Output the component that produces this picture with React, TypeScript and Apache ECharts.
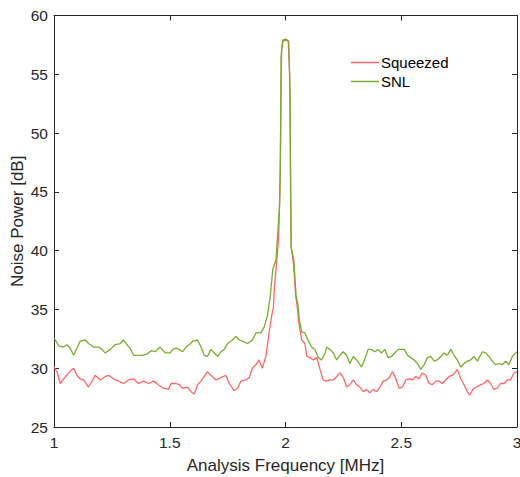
import React, { useEffect, useRef } from "react";
import * as echarts from "echarts";

const xTicks = [1, 1.5, 2, 2.5, 3];
const yTicks = [25, 30, 35, 40, 45, 50, 55, 60];

const freqSqueezed = [
  1.0, 1.013, 1.027, 1.042, 1.063, 1.085, 1.099, 1.113, 1.128, 1.149, 1.164, 1.178, 1.2, 1.221, 1.236, 1.257,
  1.279, 1.3, 1.322, 1.344, 1.365, 1.387, 1.408, 1.43, 1.451, 1.473, 1.494, 1.506, 1.527, 1.541, 1.556, 1.577,
  1.592, 1.606, 1.62, 1.635, 1.649, 1.663, 1.678, 1.699, 1.721, 1.742, 1.757, 1.778, 1.793, 1.807, 1.829, 1.843,
  1.857, 1.872, 1.886, 1.9, 1.915, 1.929, 1.94, 1.948, 1.952, 1.959, 1.97, 1.976, 1.98, 1.983, 1.988, 2.0,
  2.012, 2.018, 2.022, 2.025, 2.034, 2.044, 2.052, 2.056, 2.063, 2.07, 2.084, 2.092, 2.106, 2.12, 2.135, 2.149,
  2.163, 2.178, 2.192, 2.207, 2.221, 2.235, 2.25, 2.264, 2.278, 2.293, 2.307, 2.321, 2.336, 2.35, 2.364, 2.379,
  2.393, 2.408, 2.422, 2.437, 2.451, 2.462, 2.477, 2.491, 2.505, 2.52, 2.534, 2.548, 2.563, 2.577, 2.591, 2.606,
  2.62, 2.635, 2.649, 2.663, 2.678, 2.692, 2.707, 2.721, 2.735, 2.742, 2.757, 2.771, 2.786, 2.796, 2.81, 2.825,
  2.843, 2.857, 2.872, 2.886, 2.9, 2.915, 2.929, 2.944, 2.958, 2.972, 2.987, 3.0,
];
const powerSqueezed = [
  30.1, 29.7, 28.7, 29.1, 29.6, 30.0, 29.4, 29.1, 29.0, 28.4, 28.9, 29.4, 29.0, 29.3, 29.4, 29.1,
  28.9, 28.7, 29.0, 29.1, 28.7, 28.9, 28.7, 28.9, 28.6, 28.3, 28.2, 28.7, 28.7, 28.6, 28.3, 28.4,
  28.0, 27.8, 28.6, 28.9, 29.3, 29.7, 29.4, 29.0, 29.2, 29.4, 28.7, 28.1, 28.3, 28.9, 29.0, 29.2,
  30.0, 30.3, 30.7, 30.0, 31.0, 33.0, 34.4, 35.2, 36.9, 38.4, 41.0, 45.0, 52.0, 57.0, 57.8, 57.9,
  57.8, 55.0, 45.0, 40.3, 39.0, 36.2, 35.0, 34.1, 33.2, 32.4, 32.1, 31.0, 30.9, 30.7, 30.9, 29.9,
  29.0, 28.9, 29.0, 29.0, 29.3, 29.6, 29.2, 28.4, 28.6, 29.0, 28.6, 28.4, 28.0, 28.2, 27.9, 28.2,
  28.0, 28.4, 28.9, 29.0, 29.3, 29.7, 29.1, 28.3, 28.4, 29.0, 29.1, 29.0, 29.3, 29.1, 29.6, 29.4,
  28.7, 28.6, 28.9, 28.9, 28.7, 29.0, 29.3, 29.4, 29.7, 29.9, 29.1, 28.6, 28.0, 27.7, 28.2, 28.4,
  28.6, 28.7, 29.0, 28.7, 28.2, 28.3, 28.7, 28.7, 29.0, 29.0, 29.6, 29.7,
];

const freqSNL = [
  1.0, 1.006, 1.02, 1.042, 1.056, 1.07, 1.085, 1.099, 1.113, 1.135, 1.149, 1.171, 1.192, 1.207, 1.221, 1.243,
  1.264, 1.286, 1.3, 1.315, 1.329, 1.344, 1.358, 1.379, 1.401, 1.422, 1.437, 1.458, 1.48, 1.502, 1.513, 1.527,
  1.541, 1.556, 1.57, 1.584, 1.599, 1.62, 1.635, 1.649, 1.663, 1.678, 1.692, 1.707, 1.721, 1.735, 1.75, 1.771,
  1.786, 1.8, 1.814, 1.836, 1.857, 1.872, 1.893, 1.908, 1.922, 1.934, 1.945, 1.959, 1.974, 1.978, 1.981, 1.988,
  2.002, 2.014, 2.02, 2.024, 2.036, 2.046, 2.053, 2.06, 2.063, 2.07, 2.084, 2.099, 2.113, 2.127, 2.142, 2.156,
  2.171, 2.178, 2.192, 2.207, 2.221, 2.235, 2.25, 2.264, 2.278, 2.293, 2.307, 2.329, 2.343, 2.357, 2.372, 2.386,
  2.4, 2.415, 2.429, 2.444, 2.458, 2.472, 2.487, 2.513, 2.527, 2.541, 2.556, 2.57, 2.584, 2.599, 2.613, 2.627,
  2.642, 2.656, 2.671, 2.685, 2.699, 2.714, 2.728, 2.742, 2.757, 2.771, 2.786, 2.8, 2.814, 2.829, 2.85, 2.865,
  2.879, 2.893, 2.908, 2.922, 2.936, 2.951, 2.965, 2.98, 2.994, 3.0,
];
const powerSNL = [
  32.5, 32.4, 31.9, 31.8, 32.0, 31.7, 31.1, 31.7, 32.3, 32.4, 32.1, 31.8, 31.8, 31.6, 31.3, 31.6,
  32.0, 32.1, 32.4, 32.0, 31.7, 31.1, 31.1, 31.1, 31.2, 31.5, 31.4, 31.8, 31.3, 31.3, 31.6, 31.7,
  31.6, 31.4, 31.8, 32.0, 32.3, 32.4, 31.8, 31.1, 31.0, 31.6, 31.3, 31.0, 31.4, 31.6, 32.1, 32.4,
  32.7, 32.4, 32.3, 32.1, 32.4, 33.0, 33.0, 33.5, 34.5, 36.1, 38.4, 39.2, 43.7, 47.4, 56.5, 57.9,
  58.0, 57.8, 53.1, 40.3, 39.2, 36.1, 35.5, 34.1, 33.8, 33.1, 33.0, 32.3, 31.8, 31.6, 30.9, 30.7,
  31.3, 31.8, 31.6, 31.3, 30.7, 31.1, 31.4, 31.1, 30.4, 31.0, 30.7, 30.1, 30.8, 31.6, 31.6, 31.4,
  31.6, 31.3, 31.6, 30.9, 31.0, 31.3, 31.6, 31.6, 31.1, 30.9, 30.7, 30.4, 29.9, 30.3, 30.9, 31.0,
  30.6, 30.7, 31.0, 31.3, 31.1, 31.6, 31.1, 30.7, 30.1, 30.4, 30.6, 30.7, 31.0, 30.6, 31.4, 31.3,
  31.0, 30.6, 30.3, 30.4, 30.3, 30.6, 30.3, 31.0, 31.3, 31.4,
];

const FONT = "'Liberation Sans', Arial, Helvetica, sans-serif";
const AXIS_COLOR = "#262626";
const RED = "#ff6666";
const GREEN = "#77ac30";

export default function App() {
  const ref = useRef<HTMLDivElement>(null);

  useEffect(() => {
    if (!ref.current) return;
    const chart = echarts.init(ref.current, undefined, { renderer: "svg" });
    const zip = (xs: number[], ys: number[]) => xs.map((x, i) => [x, ys[i]]);
    const axisCommon = {
      type: "value" as const,
      axisLine: { show: true, onZero: false, lineStyle: { color: AXIS_COLOR, width: 1 } },
      axisTick: { show: true, inside: true, length: 5, lineStyle: { color: AXIS_COLOR } },
      splitLine: { show: false },
    };
    chart.setOption({
      animation: false,
      backgroundColor: "#ffffff",
      textStyle: { fontFamily: FONT },
      grid: { left: 54, right: 3, top: 15.5, bottom: 50, containLabel: false, outerBoundsMode: "none" },
      legend: {
        orient: "vertical",
        left: 346,
        top: 50,
        itemWidth: 28,
        itemHeight: 1.5,
        itemGap: 4,
        icon: "rect",
        textStyle: { fontFamily: FONT, fontSize: 15, color: "#000000", padding: [0, 0, 0, -3] },
        data: [
          { name: "Squeezed", itemStyle: { color: RED } },
          { name: "SNL", itemStyle: { color: GREEN } },
        ],
      },
      xAxis: [
        {
          ...axisCommon,
          position: "bottom",
          min: 1,
          max: 3,
          interval: 0.5,
          name: "Analysis Frequency [MHz]",
          nameLocation: "middle",
          nameGap: 30,
          nameTextStyle: { fontFamily: FONT, fontSize: 17, color: AXIS_COLOR },
          axisLabel: {
            fontFamily: FONT,
            fontSize: 15.5,
            color: AXIS_COLOR,
            margin: 7,
            formatter: (v: number) => (xTicks.includes(v) ? String(v) : ""),
          },
        },
        {
          ...axisCommon,
          position: "top",
          min: 1,
          max: 3,
          interval: 0.5,
          axisLabel: { show: false },
        },
      ],
      yAxis: [
        {
          ...axisCommon,
          position: "left",
          min: 25,
          max: 60,
          interval: 5,
          name: "Noise Power [dB]",
          nameLocation: "middle",
          nameGap: 28,
          nameMoveOverlap: false,
          nameTextStyle: { fontFamily: FONT, fontSize: 17, color: AXIS_COLOR },
          axisLabel: {
            fontFamily: FONT,
            fontSize: 15.5,
            color: AXIS_COLOR,
            margin: 6,
            formatter: (v: number) => (yTicks.includes(v) ? String(v) : ""),
          },
        },
        {
          ...axisCommon,
          position: "right",
          min: 25,
          max: 60,
          interval: 5,
          axisLabel: { show: false },
        },
      ],
      series: [
        {
          name: "Squeezed",
          type: "line",
          xAxisIndex: 0,
          yAxisIndex: 0,
          symbol: "none",
          lineStyle: { color: RED, width: 1.3 },
          itemStyle: { color: RED },
          data: zip(freqSqueezed, powerSqueezed),
        },
        {
          name: "SNL",
          type: "line",
          xAxisIndex: 0,
          yAxisIndex: 0,
          symbol: "none",
          lineStyle: { color: GREEN, width: 1.3 },
          itemStyle: { color: GREEN },
          data: zip(freqSNL, powerSNL),
        },
      ],
    });
    return () => chart.dispose();
  }, []);

  return (
    <div
      ref={ref}
      style={{ position: "fixed", left: 0, top: 0, width: 520, height: 477, background: "#fff" }}
    />
  );
}
